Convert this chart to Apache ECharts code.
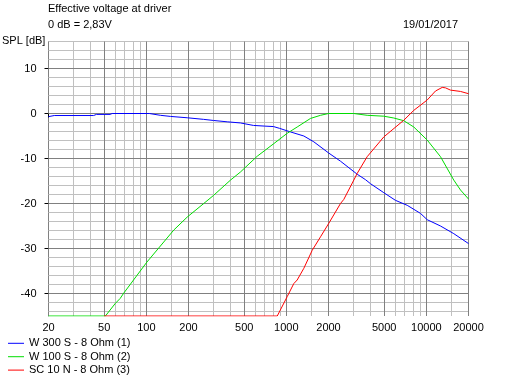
<!DOCTYPE html>
<html><head><meta charset="utf-8">
<script src="https://cdn.jsdelivr.net/npm/echarts@6/dist/echarts.min.js"></script>
<style>html,body{margin:0;padding:0;background:#fff}#c{width:513px;height:379px}</style>
</head><body><div id="c"></div>
<script>
// Curve data (frequency in Hz, SPL in dB)
const freqW300 = [20,22,42,44,55,57,105,126,149,196,256,302,378,470,582,700,809,894,1071,1333,1572,2010,2436,3208,3674,3990,4968,6020,7298,9080,10140,12620,15700,20000];
const splW300  = [-0.7,-0.45,-0.45,-0.2,-0.2,0,0,-0.4,-0.65,-0.95,-1.3,-1.55,-1.85,-2.1,-2.65,-2.8,-2.9,-3.3,-4.1,-5.0,-6.3,-8.8,-10.6,-13.5,-14.7,-15.6,-17.6,-19.3,-20.4,-22.2,-23.6,-25,-26.7,-28.9];

const freqW100 = [20,51,60,65,69,101,157,196,257,302,399,470,619,813,1014,1195,1487,1754,2000,3032,3778,4968,5853,6898,8133,10140,12620,15700,17530,20000];
const splW100  = [-45,-45,-42.2,-41.1,-39.9,-33,-25.9,-23,-20,-18.2,-14.8,-13,-9.5,-6.7,-4.4,-3,-1.1,-0.4,0,0,-0.4,-0.6,-1,-1.6,-3,-5.9,-9.6,-14.8,-17,-19];

const freqSC10 = [50,861,1014,1130,1195,1333,1530,1754,2010,2436,2572,3032,3208,3778,4968,6898,8133,10140,11620,12980,13700,14870,17530,20000];
const splSC10  = [-45,-45,-40.7,-37.8,-37,-34.4,-30.4,-27.4,-24.4,-20,-19.1,-14.8,-13.3,-9.6,-5.2,-1.5,0.7,3,5,5.8,5.7,5.2,4.9,4.4];

const seriesNames = ['W 300 S - 8 Ohm (1)', 'W 100 S - 8 Ohm (2)', 'SC 10 N - 8 Ohm (3)'];

// Axis ticks / grid
const xTickLabels = [20,50,100,200,500,1000,2000,5000,10000,20000];
const xMajorGrid = [50,100,200,500,1000,2000,5000,10000,20000];
const xMinorGrid = [30,40,60,70,80,90,150,300,400,600,700,800,900,1500,3000,4000,6000,7000,8000,9000,15000];
const yTickLabels = [-40,-30,-20,-10,0,10];
const yMajorGrid = [-40,-30,-20,-10,0,10];
const yMinorGrid = [-44,-42,-38,-36,-34,-32,-28,-26,-24,-22,-18,-16,-14,-12,-8,-6,-4,-2,2,4,6,8,12,14,16];

const FONT = '"Liberation Sans", Arial, sans-serif';
const LIGHT = '#c0c0c0', DARK = '#808080';

function zip(a, b) { return a.map((v, i) => [v, b[i]]); }

const gridLines = [];
xMinorGrid.forEach(v => gridLines.push({xAxis: v, lineStyle: {color: LIGHT}}));
yMinorGrid.forEach(v => gridLines.push({yAxis: v, lineStyle: {color: LIGHT}}));
xMajorGrid.forEach(v => gridLines.push({xAxis: v, lineStyle: {color: DARK}}));
yMajorGrid.forEach(v => gridLines.push({yAxis: v, lineStyle: {color: DARK}}));

const chart = echarts.init(document.getElementById('c'), null, {renderer: 'canvas'});
function curve(name, data, color) {
  return {
    name: name, type: 'line', data: data, showSymbol: false, symbol: 'none',
    lineStyle: {color: color, width: 1}, itemStyle: {color: color},
    z: 3, animation: false, clip: true
  };
}
chart.setOption({
  animation: false,
  backgroundColor: '#fff',
  textStyle: {fontFamily: FONT},
  grid: {left: 48.5, top: 41.5, width: 420, height: 274.5, containLabel: false},
  xAxis: {
    type: 'log', logBase: 10, min: 20, max: 20000,
    axisLine: {show: false},
    splitLine: {show: false},
    minorTick: {show: false},
    axisTick: {show: true, customValues: xTickLabels, length: 4, lineStyle: {color: '#000'}},
    axisLabel: {customValues: xTickLabels, margin: 6, fontSize: 11, color: '#000', fontFamily: FONT,
      showMinLabel: true, showMaxLabel: true, hideOverlap: false, formatter: v => String(Math.round(v))}
  },
  yAxis: {
    type: 'value', min: -45, max: 16,
    axisLine: {show: true, lineStyle: {color: DARK, width: 1}},
    splitLine: {show: false},
    axisTick: {show: true, customValues: yTickLabels, length: 4, lineStyle: {color: '#000'}},
    axisLabel: {customValues: yTickLabels, margin: 12, fontSize: 11, color: '#000', fontFamily: FONT,
      showMinLabel: true, showMaxLabel: true, formatter: v => String(v)}
  },
  legend: {
    data: seriesNames, orient: 'vertical', left: 8, top: 336.6, padding: 0,
    itemWidth: 16, itemHeight: 1, itemGap: 0, icon: 'rect',
    textStyle: {fontSize: 11, lineHeight: 13.4, color: '#000', fontFamily: FONT},
    selectedMode: false
  },
  graphic: [
    {type: 'text', x: 48, y: 9, style: {text: 'Effective voltage at driver', font: '11px ' + FONT, fill: '#000', verticalAlign: 'middle', textVerticalAlign: 'middle'}},
    {type: 'text', x: 48, y: 25, style: {text: '0 dB = 2,83V', font: '11px ' + FONT, fill: '#000', verticalAlign: 'middle', textVerticalAlign: 'middle'}},
    {type: 'text', x: 458, y: 25, style: {text: '19/01/2017', font: '11px ' + FONT, fill: '#000', align: 'right', textAlign: 'right', verticalAlign: 'middle', textVerticalAlign: 'middle'}},
    {type: 'text', x: 2, y: 41, style: {text: 'SPL [dB]', font: '11px ' + FONT, fill: '#000', verticalAlign: 'middle', textVerticalAlign: 'middle'}}
  ],
  series: [
    {
      name: 'grid', type: 'line', data: [], z: 1, silent: true,
      markLine: {silent: true, z: 1, zlevel: 0, symbol: ['none', 'none'], label: {show: false}, animation: false,
        lineStyle: {type: 'solid', width: 1}, emphasis: {disabled: true}, data: gridLines}
    },
    curve(seriesNames[0], zip(freqW300, splW300), '#0000ff'),
    curve(seriesNames[1], zip(freqW100, splW100), '#00dd00'),
    curve(seriesNames[2], zip(freqSC10, splSC10), '#ff0000')
  ]
});
</script></body></html>
